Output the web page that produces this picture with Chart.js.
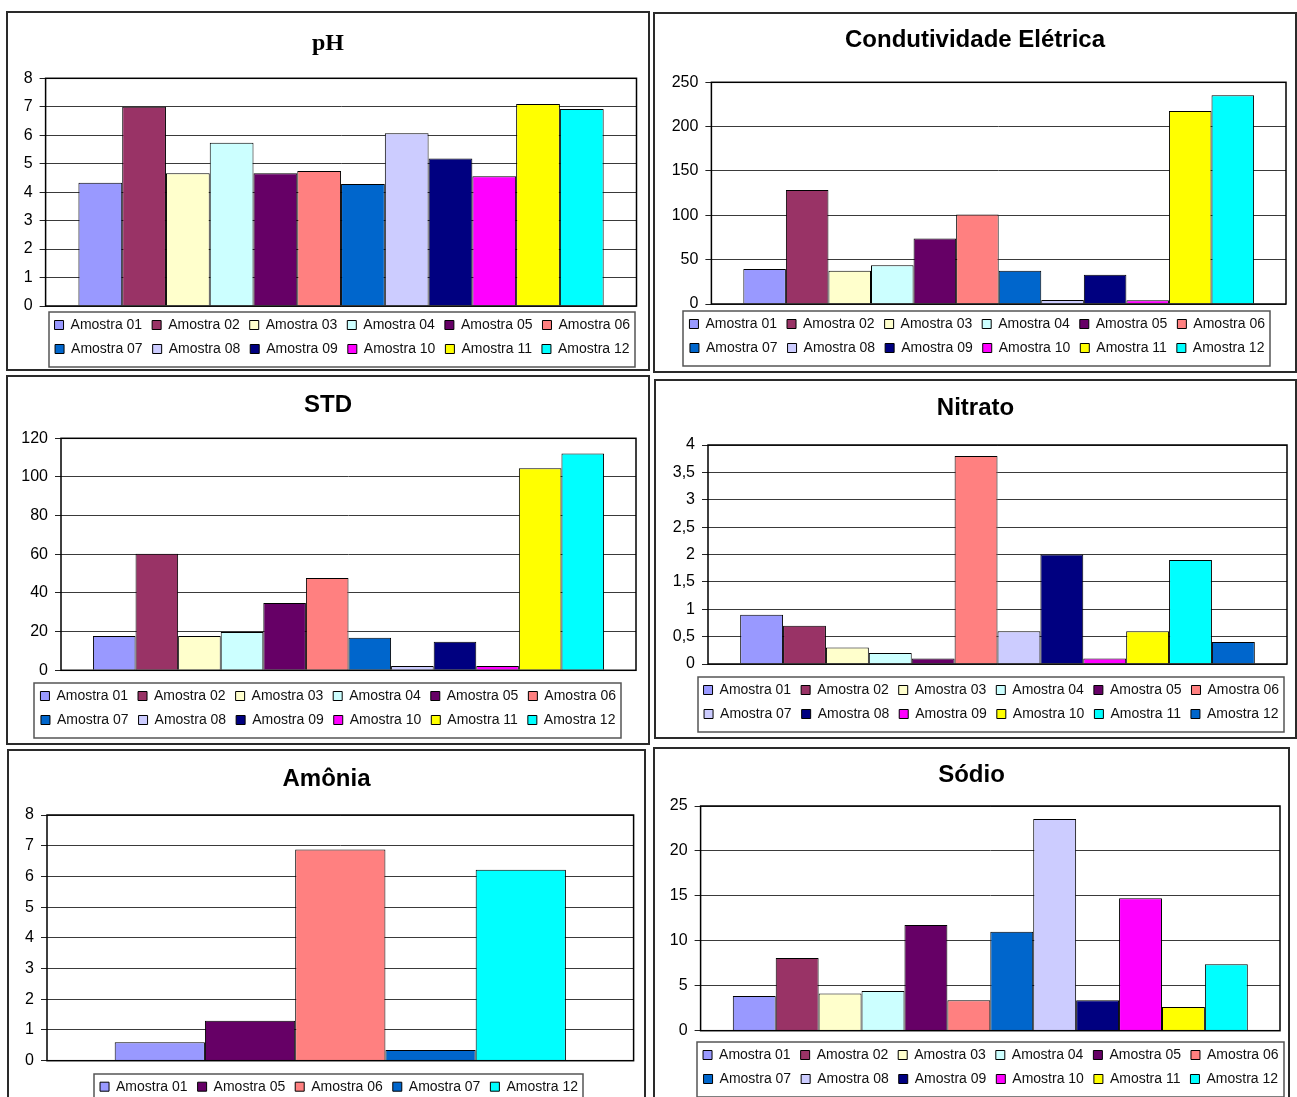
<!DOCTYPE html>
<html lang="pt-BR">
<head>
<meta charset="utf-8">
<title>Parâmetros físico-químicos das amostras</title>
<script src="https://cdn.jsdelivr.net/npm/chart.js@4.4.1/dist/chart.umd.min.js"></script>
<style>
  html, body { margin: 0; padding: 0; background: #fff; }
  body { width: 1297px; height: 1097px; overflow: hidden; position: relative; }
  .painel { position: absolute; box-sizing: border-box; border: 2px solid #2a2a2a; background: #fff; }
  .painel canvas { display: block; }
</style>
</head>
<body>
<div class="painel" style="left:6px;top:11px;width:644px;height:360px"><canvas id="c-ph" width="640" height="356"></canvas></div>
<div class="painel" style="left:653px;top:12px;width:644px;height:361px"><canvas id="c-ce" width="640" height="357"></canvas></div>
<div class="painel" style="left:6px;top:375px;width:644px;height:370px"><canvas id="c-std" width="640" height="366"></canvas></div>
<div class="painel" style="left:654px;top:379px;width:643px;height:360px"><canvas id="c-no3" width="639" height="356"></canvas></div>
<div class="painel" style="left:7px;top:749px;width:639px;height:366px"><canvas id="c-nh3" width="635" height="362"></canvas></div>
<div class="painel" style="left:653px;top:747px;width:637px;height:368px"><canvas id="c-na" width="633" height="364"></canvas></div>

<script>
// ---- Amostras ----
const amostras = ['Amostra 01', 'Amostra 02', 'Amostra 03', 'Amostra 04', 'Amostra 05', 'Amostra 06',
                  'Amostra 07', 'Amostra 08', 'Amostra 09', 'Amostra 10', 'Amostra 11', 'Amostra 12'];
const amostrasAmonia = ['Amostra 01', 'Amostra 05', 'Amostra 06', 'Amostra 07', 'Amostra 12'];

// ---- Resultados por parâmetro ----
const ph            = [4.33, 7.0, 4.66, 5.74, 4.66, 4.74, 4.29, 6.07, 5.18, 4.56, 7.1, 6.92];
const condutividade = [39.5, 128.6, 37.6, 43.6, 74, 101, 37.6, 4.5, 33, 4.1, 217.7, 235.3];
const std           = [17.8, 60.3, 17.8, 19.8, 34.8, 47.8, 16.9, 2.2, 14.8, 2.2, 104.5, 112.2];
const nitrato       = [0.9, 0.7, 0.3, 0.2, 0.1, 3.8, 0.6, 2.0, 0.1, 0.6, 1.9, 0.4];
const amonia        = [0.6, 1.3, 6.88, 0.35, 6.22];
const sodio         = [3.86, 8.1, 4.15, 4.41, 11.76, 3.38, 11.02, 23.55, 3.38, 14.73, 2.63, 7.38];

// ---- Eixo Y (máximo e intervalo entre marcas) ----
const eixoPh      = { max: 8,   passo: 1 };
const eixoCond    = { max: 250, passo: 50 };
const eixoStd     = { max: 120, passo: 20 };
const eixoNitrato = { max: 4,   passo: 0.5 };
const eixoAmonia  = { max: 8,   passo: 1 };
const eixoSodio   = { max: 25,  passo: 5 };

// ---- Cores das séries ----
const coresAmostra = ['#9999FF', '#993366', '#FFFFCC', '#CCFFFF', '#660066', '#FF8080',
                      '#0066CC', '#CCCCFF', '#000080', '#FF00FF', '#FFFF00', '#00FFFF'];
const coresNitrato = ['#9999FF', '#993366', '#FFFFCC', '#CCFFFF', '#660066', '#FF8080',
                      '#CCCCFF', '#000080', '#FF00FF', '#FFFF00', '#00FFFF', '#0066CC'];
const coresAmonia  = ['#9999FF', '#660066', '#FF8080', '#0066CC', '#00FFFF'];

Chart.defaults.font.family = "'Liberation Sans', Arial, Helvetica, sans-serif";

// Moldura preta em volta da área de plotagem
const molduraPlot = {
  id: 'molduraPlot',
  afterDatasetsDraw(chart) {
    const { ctx, chartArea: a } = chart;
    ctx.save();
    ctx.strokeStyle = '#000';
    ctx.lineWidth = 1.5;
    ctx.strokeRect(a.left, a.top, a.right - a.left, a.bottom - a.top);
    ctx.restore();
  }
};

// Desloca a legenda na horizontal e desenha a caixa em volta dos itens
const caixaLegenda = {
  id: 'caixaLegenda',
  afterLayout(chart, args, opts) {
    const lg = chart.legend;
    if (lg && opts.deslocamento) {
      lg.left += opts.deslocamento;
      lg.right += opts.deslocamento;
    }
  },
  afterDraw(chart) {
    const caixas = chart.legend && chart.legend.legendHitBoxes;
    if (!caixas || !caixas.length) return;
    let l = Infinity, r = -Infinity, t = Infinity, b = -Infinity;
    caixas.forEach(h => {
      l = Math.min(l, h.left); r = Math.max(r, h.left + h.width);
      t = Math.min(t, h.top);  b = Math.max(b, h.top + h.height);
    });
    const { ctx } = chart;
    ctx.save();
    ctx.strokeStyle = '#555';
    ctx.lineWidth = 1.5;
    const x0 = Math.round(l - 6), y0 = Math.round(t - 6);
    ctx.strokeRect(x0, y0, Math.round(r + 5) - x0, Math.round(b + 11) - y0);
    ctx.restore();
  }
};

function grafico(id, titulo, fonteTitulo, rotulos, valores, cores, eixo, d) {
  const n = rotulos.length;
  return new Chart(document.getElementById(id), {
    type: 'bar',
    data: {
      labels: [''],
      datasets: rotulos.map((rotulo, i) => ({
        label: rotulo,
        data: [valores[i]],
        backgroundColor: cores[i],
        borderColor: '#000',
        borderWidth: 1,
        barPercentage: 1,
        categoryPercentage: n / (n + 1.5)
      }))
    },
    options: {
      responsive: false,
      animation: false,
      events: [],
      layout: { padding: { left: d.lateral, right: d.lateral, top: 0, bottom: d.base } },
      scales: {
        x: {
          display: true,
          ticks: { display: false },
          grid: { display: false },
          border: { display: false },
          afterFit: s => { s.height = d.folga; }
        },
        y: {
          min: 0,
          max: eixo.max,
          ticks: {
            stepSize: eixo.passo,
            padding: 7,
            color: '#000',
            font: { size: 16 },
            callback: v => String(v).replace('.', ',')
          },
          grid: { color: '#3a3a3a', tickColor: '#222', tickLength: 6, lineWidth: 1 },
          border: { display: false },
          afterFit: s => { s.width = d.eixo; }
        }
      },
      plugins: {
        title: {
          display: true,
          text: titulo,
          color: '#000',
          font: { size: 24, weight: 'bold', family: fonteTitulo },
          padding: { top: d.tituloCima, bottom: d.tituloBaixo }
        },
        legend: {
          position: 'bottom',
          labels: { boxWidth: 9, boxHeight: 9, padding: 10, color: '#111', font: { size: 14 } }
        },
        tooltip: { enabled: false },
        caixaLegenda: { deslocamento: d.dx }
      }
    },
    plugins: [molduraPlot, caixaLegenda]
  });
}

const sans = "'Liberation Sans', Arial, Helvetica, sans-serif";
const serif = "'Liberation Serif', 'Times New Roman', Times, serif";

grafico('c-ph', 'pH', serif, amostras, ph, coresAmostra, eixoPh,
  { lateral: 11.5, eixo: 26.1, tituloCima: 16.6, tituloBaixo: 19.9, folga: 2, base: 3, dx: 14.3 });
grafico('c-ce', 'Condutividade Elétrica', sans, amostras, condutividade, coresAmostra, eixoCond,
  { lateral: 9, eixo: 47.4, tituloCima: 12.1, tituloBaixo: 27.4, folga: 3, base: 6, dx: 2.2 });
grafico('c-std', 'STD', sans, amostras, std, coresAmostra, eixoStd,
  { lateral: 12, eixo: 41, tituloCima: 14.1, tituloBaixo: 18.4, folga: 8.7, base: 6, dx: 0.2 });
grafico('c-no3', 'Nitrato', sans, amostras, nitrato, coresNitrato, eixoNitrato,
  { lateral: 8, eixo: 44, tituloCima: 12.9, tituloBaixo: 22.3, folga: 9, base: 6, dx: 15.8 });
grafico('c-nh3', 'Amônia', sans, amostrasAmonia, amonia, coresAmonia, eixoAmonia,
  { lateral: 10.4, eixo: 27.6, tituloCima: 13.9, tituloBaixo: 21.3, folga: 9, base: 9.3, dx: 12.5 });
grafico('c-na', 'Sódio', sans, amostras, sodio, coresAmostra, eixoSodio,
  { lateral: 8, eixo: 37.6, tituloCima: 11.6, tituloBaixo: 16.6, folga: 7.3, base: 17, dx: 19.3 });
</script>
</body>
</html>
